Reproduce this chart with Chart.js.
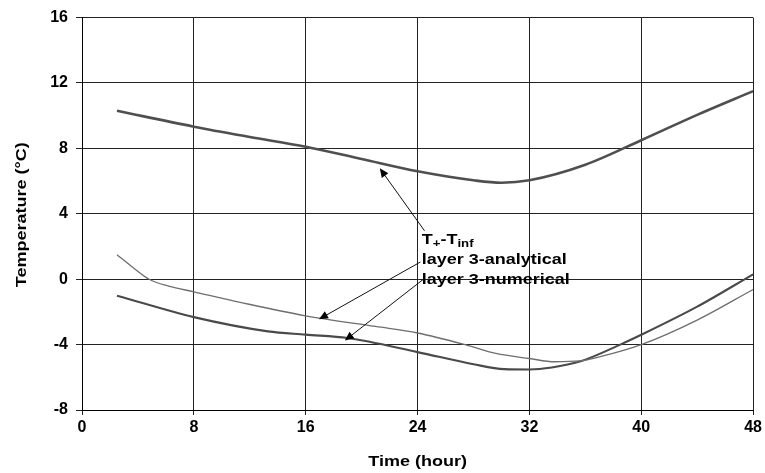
<!DOCTYPE html>
<html>
<head>
<meta charset="utf-8">
<script src="https://cdn.jsdelivr.net/npm/chart.js@4.4.1/dist/chart.umd.min.js"></script>
<style>
  html, body { margin: 0; padding: 0; background: #fff; }
  #wrap { width: 765px; height: 473px; }
</style>
</head>
<body>
<div id="wrap"><canvas id="c" width="765" height="473"></canvas></div>
<script>
// ---- data ----
const xTicks = [0, 8, 16, 24, 32, 40, 48];
const yTicks = [-8, -4, 0, 4, 8, 12, 16];

const topHours = [2.5, 8, 12, 16, 20, 24, 28, 30, 32, 36, 40, 44, 48];
const topValues = [10.3, 9.33, 8.7, 8.1, 7.35, 6.6, 6.05, 5.9, 6.05, 7.0, 8.5, 10.05, 11.5];

const anaHours = [2.5, 3.6, 4.8, 6.2, 8, 11.4, 16, 21, 24, 27.4, 29.6, 32, 33.8, 35.6, 37, 40, 44, 48];
const anaValues = [1.5, 0.75, 0, -0.42, -0.77, -1.43, -2.24, -2.89, -3.29, -4.0, -4.54, -4.85, -5.05, -5.0, -4.75, -4.0, -2.5, -0.63];

const numHours = [2.5, 8, 13.3, 16, 19, 24, 28, 30.2, 32, 33.6, 35.6, 38.5, 40, 44, 48];
const numValues = [-1.01, -2.32, -3.19, -3.39, -3.6, -4.46, -5.2, -5.5, -5.52, -5.4, -5.04, -4.0, -3.4, -1.68, 0.3];

// annotation arrows: [fromHour, fromValue, toHour, toValue]
const arrowTop = [24.5, 2.96, 21.3, 6.78];
const arrowAna = [24.2, 1.05, 16.95, -2.45];
const arrowNum = [24.5, 0.05, 18.8, -3.75];
// label anchor (hour, value) for first text line
const labelAnchor = [24.3, 2.55];
const labelLines = ["layer 3-analytical", "layer 3-numerical"];
const xTitle = "Time (hour)";
const yTitle = "Temperature (°C)";

function pts(xs, ys) { return xs.map((x, i) => ({ x: x, y: ys[i] })); }

const FONT = '"Liberation Sans", Arial, sans-serif';
const STRETCH = 1.2;

const annotPlugin = {
  id: 'annot',
  afterDraw(chart) {
    const ctx = chart.ctx;
    const xs = chart.scales.x, ys = chart.scales.y;
    const ca = chart.chartArea;
    const arrow = (a) => {
      const x1 = xs.getPixelForValue(a[0]), y1 = ys.getPixelForValue(a[1]);
      const x2 = xs.getPixelForValue(a[2]), y2 = ys.getPixelForValue(a[3]);
      const ang = Math.atan2(y2 - y1, x2 - x1);
      const L = 9, W = 4;
      ctx.save();
      ctx.strokeStyle = '#111';
      ctx.fillStyle = '#000';
      ctx.lineWidth = 1;
      ctx.beginPath();
      ctx.moveTo(x1, y1);
      ctx.lineTo(x2 - Math.cos(ang) * L * 0.8, y2 - Math.sin(ang) * L * 0.8);
      ctx.stroke();
      ctx.beginPath();
      ctx.moveTo(x2, y2);
      ctx.lineTo(x2 - Math.cos(ang) * L - Math.sin(ang) * W, y2 - Math.sin(ang) * L + Math.cos(ang) * W);
      ctx.lineTo(x2 - Math.cos(ang) * L + Math.sin(ang) * W, y2 - Math.sin(ang) * L - Math.cos(ang) * W);
      ctx.closePath();
      ctx.fill();
      ctx.restore();
    };
    arrow(arrowTop);
    arrow(arrowAna);
    arrow(arrowNum);

    const lx = xs.getPixelForValue(labelAnchor[0]);
    const ly = ys.getPixelForValue(labelAnchor[1]);
    ctx.save();
    ctx.fillStyle = '#000';
    ctx.textBaseline = 'alphabetic';
    ctx.textAlign = 'left';
    ctx.translate(lx, ly + 6);
    ctx.scale(STRETCH, 1);
    let x = 0;
    ctx.font = 'bold 15px ' + FONT;
    ctx.fillText('T', x, 0); x += ctx.measureText('T').width;
    ctx.font = 'bold 11px ' + FONT;
    ctx.fillText('+', x, 3); x += ctx.measureText('+').width;
    ctx.font = 'bold 15px ' + FONT;
    ctx.fillText('-T', x, 0); x += ctx.measureText('-T').width;
    ctx.font = 'bold 11px ' + FONT;
    ctx.fillText('inf', x, 3);
    ctx.font = 'bold 15px ' + FONT;
    ctx.fillText(labelLines[0], 0, 20);
    ctx.fillText(labelLines[1], 0, 40);
    ctx.restore();

    // axis titles
    ctx.save();
    ctx.fillStyle = '#000';
    ctx.font = 'bold 15px ' + FONT;
    ctx.textAlign = 'center';
    ctx.textBaseline = 'middle';
    ctx.translate((ca.left + ca.right) / 2, 462);
    ctx.scale(STRETCH, 1);
    ctx.fillText(xTitle, 0, 0);
    ctx.restore();

    ctx.save();
    ctx.fillStyle = '#000';
    ctx.font = 'bold 15px ' + FONT;
    ctx.textAlign = 'center';
    ctx.textBaseline = 'middle';
    ctx.translate(22, (ca.top + ca.bottom) / 2 + 1);
    ctx.rotate(-Math.PI / 2);
    ctx.scale(STRETCH, 1);
    ctx.fillText(yTitle, 0, 0);
    ctx.restore();
  }
};

new Chart(document.getElementById('c'), {
  type: 'scatter',
  data: {
    datasets: [
      { label: 'T+-Tinf', data: pts(topHours, topValues), showLine: true, borderColor: '#4f4f4f', borderWidth: 2.6, pointRadius: 0, cubicInterpolationMode: 'monotone', fill: false },
      { label: 'layer 3-analytical', data: pts(anaHours, anaValues), showLine: true, borderColor: '#6e6e6e', borderWidth: 1.3, pointRadius: 0, cubicInterpolationMode: 'monotone', fill: false },
      { label: 'layer 3-numerical', data: pts(numHours, numValues), showLine: true, borderColor: '#4a4a4a', borderWidth: 2.1, pointRadius: 0, cubicInterpolationMode: 'monotone', fill: false }
    ]
  },
  options: {
    responsive: false,
    animation: false,
    devicePixelRatio: 1,
    layout: { padding: { top: 15, right: 10, left: 0, bottom: 0 } },
    plugins: { legend: { display: false }, tooltip: { enabled: false } },
    scales: {
      x: {
        type: 'linear', min: 0, max: 48,
        afterBuildTicks: (s) => { s.ticks = xTicks.map(v => ({ value: v })); },
        afterFit: (s) => { s.height = 63; },
        ticks: { color: '#000', font: { family: FONT, size: 16, weight: 'bold' }, padding: 3, maxRotation: 0 },
        grid: { color: '#222', lineWidth: 1, tickLength: 5, drawTicks: true },
        border: { color: '#000', width: 1 },
        title: { display: false }
      },
      y: {
        type: 'linear', min: -8, max: 16,
        afterBuildTicks: (s) => { s.ticks = yTicks.map(v => ({ value: v })); },
        afterFit: (s) => { s.width = 82; },
        ticks: { color: '#000', font: { family: FONT, size: 16, weight: 'bold' }, padding: 8 },
        grid: { color: '#222', lineWidth: 1, tickLength: 6, drawTicks: true },
        border: { color: '#000', width: 1 },
        title: { display: false }
      }
    }
  },
  plugins: [annotPlugin]
});
</script>
</body>
</html>
